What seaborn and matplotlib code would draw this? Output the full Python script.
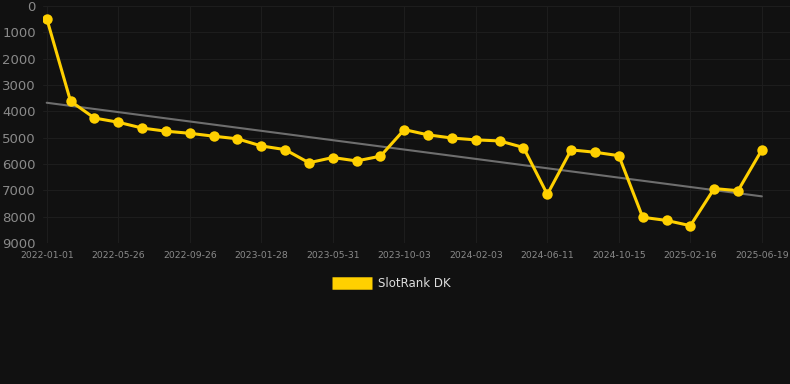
import numpy as np
import pandas as pd
import matplotlib
matplotlib.use('Agg')
import matplotlib.pyplot as plt
import seaborn as sns

# --- dados ---
datas = ['2022-01-01', '2022-02-12', '2022-04-09', '2022-05-26', '2022-07-06',
         '2022-08-16', '2022-09-26', '2022-11-05', '2022-12-17', '2023-01-28',
         '2023-03-10', '2023-04-20', '2023-05-31', '2023-07-11', '2023-08-22',
         '2023-10-03', '2023-11-13', '2023-12-24', '2024-02-03', '2024-03-15',
         '2024-04-30', '2024-06-11', '2024-07-22', '2024-09-02', '2024-10-15',
         '2024-11-25', '2025-01-05', '2025-02-16', '2025-03-29', '2025-05-09',
         '2025-06-19']
rank = [470, 3610, 4250, 4410, 4630, 4750, 4830, 4940, 5040, 5310,
        5450, 5950, 5750, 5880, 5700, 4690, 4890, 5010, 5080, 5120,
        5370, 7150, 5460, 5550, 5680, 8020, 8140, 8340, 6930, 7010,
        5460]
y_ticks = [0, 1000, 2000, 3000, 4000, 5000, 6000, 7000, 8000, 9000]

BG = '#111111'
AMARELO = '#FFD000'
CINZA_TXT = '#8a8a8a'

df = pd.DataFrame({'pos': np.arange(len(datas)), 'data': datas, 'rank': rank})

sns.set_theme(style='dark')
plt.rcParams['font.family'] = ['DejaVu Sans']

fig = plt.figure(figsize=(7.9, 3.84), dpi=100, facecolor=BG)
ax = fig.add_axes([0.054, 0.367, 0.946, 0.617])
ax.set_facecolor(BG)

# linha de tendencia (regressao linear)
sns.regplot(data=df, x='pos', y='rank', scatter=False, ci=None, truncate=True,
            line_kws={'color': '#6e6e6e', 'linewidth': 1.5}, ax=ax)

# serie principal
sns.lineplot(data=df, x='pos', y='rank', color=AMARELO, linewidth=2.2,
             marker='o', markersize=7.5, markeredgewidth=0,
             label='SlotRank DK', ax=ax)

ax.set_ylim(9000, 0)
ax.set_xlim(-0.17, 31.18)
ax.set_yticks(y_ticks)
ax.set_yticklabels([str(v) for v in y_ticks])
tick_pos = df['pos'][::3]
ax.set_xticks(tick_pos)
ax.set_xticklabels(df['data'][::3])
ax.tick_params(axis='y', colors=CINZA_TXT, labelsize=9.5, length=0, pad=5)
ax.tick_params(axis='x', colors=CINZA_TXT, labelsize=6.7, length=0, pad=6)
ax.set_xlabel('')
ax.set_ylabel('')
ax.grid(True, color='#1d1d1d', linewidth=0.8)
for s in ax.spines.values():
    s.set_visible(False)

leg = ax.legend(loc='upper center', bbox_to_anchor=(0.467, -0.10), frameon=False,
                handlelength=3.4, handleheight=0.9, handletextpad=0.5, fontsize=8.5)
for h in leg.legend_handles:
    h.set_linewidth(9)
    h.set_marker('')
    h.set_solid_capstyle('butt')
for t in leg.get_texts():
    t.set_color('#dddddd')

plt.savefig('out.png', dpi=100, facecolor=BG)
